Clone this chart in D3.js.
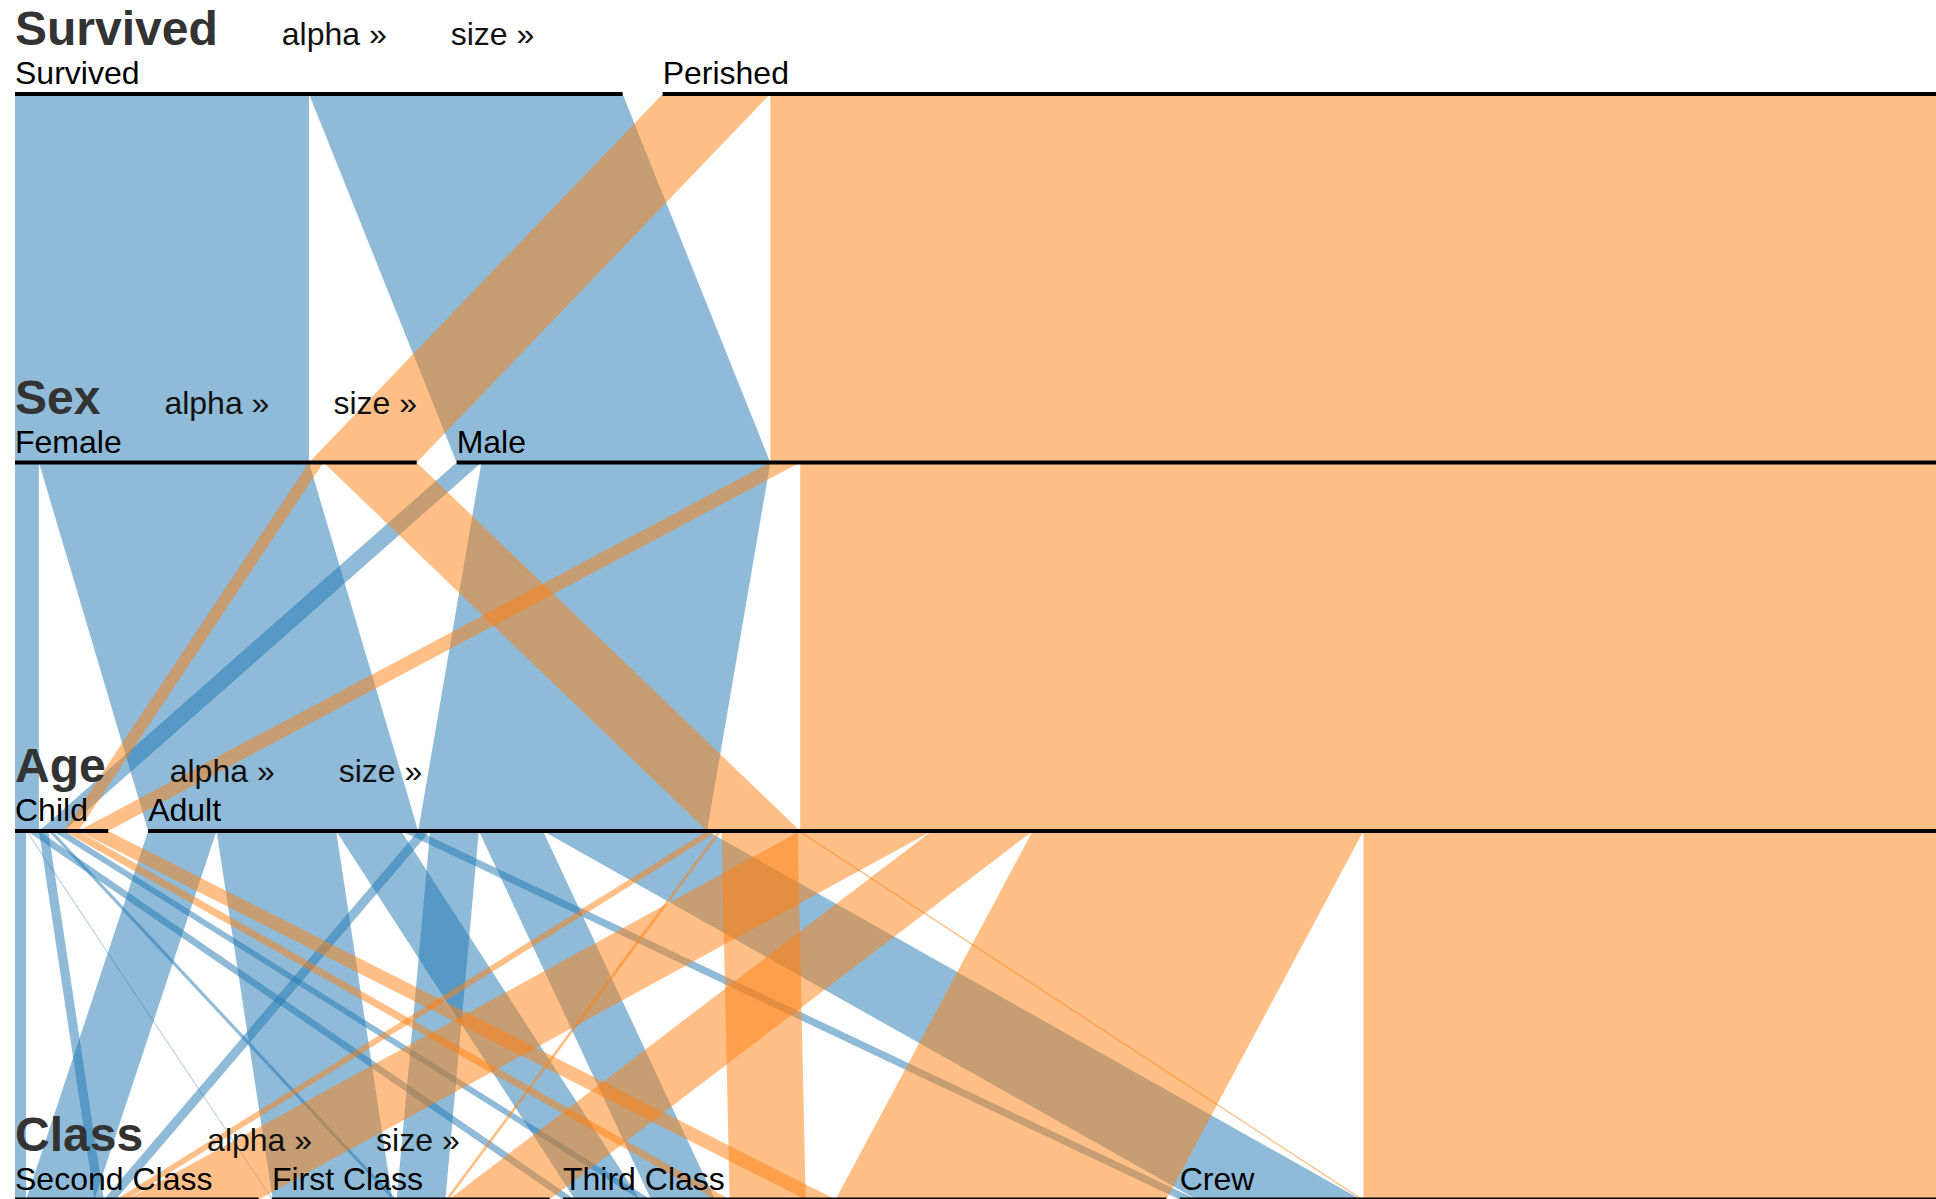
<!DOCTYPE html>
<html>
<head>
<meta charset="utf-8">
<script src="https://cdn.jsdelivr.net/npm/d3@7"></script>
<style>
  body { margin: 0; background: #fff; overflow: hidden; }
  svg { display: block; font-family: "Liberation Sans", Arial, sans-serif; }
  .dimension .name { font-weight: bold; fill: #333; }
  .dimension .sort { fill: #111; }
  .category text { fill: #000; }
  .ribbon path { stroke-opacity: 0; fill-opacity: .5; }
</style>
</head>
<body>
<script>
var width = 1936, height = 1199;

// dimensions and their categories, in display order
var dimensions = ["Survived", "Sex", "Age", "Class"];
var survivedCats = ["Survived", "Perished"];
var sexCats = ["Female", "Male"];
var ageCats = ["Child", "Adult"];
var classCats = ["Second Class", "First Class", "Third Class", "Crew"];

// passenger groups: [sex, age, class]
var groups = [
  ["Female", "Child", "First Class"], ["Female", "Child", "Second Class"], ["Female", "Child", "Third Class"], ["Female", "Child", "Crew"],
  ["Female", "Adult", "First Class"], ["Female", "Adult", "Second Class"], ["Female", "Adult", "Third Class"], ["Female", "Adult", "Crew"],
  ["Male", "Child", "First Class"], ["Male", "Child", "Second Class"], ["Male", "Child", "Third Class"], ["Male", "Child", "Crew"],
  ["Male", "Adult", "First Class"], ["Male", "Adult", "Second Class"], ["Male", "Adult", "Third Class"], ["Male", "Adult", "Crew"]
];
var survivedCounts = [1, 13, 14, 0, 140, 80, 76, 20, 5, 11, 13, 0, 57, 14, 75, 192];
var perishedCounts = [0, 0, 17, 0, 4, 13, 89, 3, 0, 0, 35, 0, 118, 154, 387, 670];

var catLists = [survivedCats, sexCats, ageCats, classCats];
var colors = { "Survived": "#1f77b4", "Perished": "#ff7f0e" };

// flat records
var records = [];
groups.forEach(function (g, i) {
  records.push({ path: ["Survived"].concat(g), count: survivedCounts[i] });
  records.push({ path: ["Perished"].concat(g), count: perishedCounts[i] });
});
var total = d3.sum(records, d => d.count);

var left = 15, chartWidth = 1921, spacing = 40;
var xs = d3.scaleLinear().domain([0, total]).range([0, chartWidth - spacing]);
var ys = d3.scalePoint().domain(dimensions).range([94, 1199.5]);

// category positions
var catPos = dimensions.map(function (dim, i) {
  var cats = catLists[i], pos = {}, x = left, p = spacing / (cats.length - 1);
  cats.forEach(function (c) {
    var n = d3.sum(records.filter(r => r.path[i] === c), r => r.count);
    pos[c] = { x: x, dx: xs(n), count: n };
    x += xs(n) + p;
  });
  return pos;
});

// tree nodes per level, lexicographic order by category index
function cmp(a, b) {
  for (var k = 0; k < a.length; k++) {
    var d = catLists[k].indexOf(a[k]) - catLists[k].indexOf(b[k]);
    if (d) return d;
  }
  return 0;
}
var levels = dimensions.map(function (dim, i) {
  var m = d3.rollup(records, v => d3.sum(v, r => r.count), r => r.path.slice(0, i + 1).join("|"));
  var nodes = Array.from(m, ([k, v]) => ({ key: k, path: k.split("|"), count: v }))
    .filter(n => n.count > 0)
    .sort((a, b) => cmp(a.path, b.path));
  var offs = {};
  nodes.forEach(function (n) {
    var c = n.path[i];
    offs[c] = offs[c] || 0;
    n.x = catPos[i][c].x + xs(offs[c]);
    n.dx = xs(n.count);
    offs[c] += n.count;
  });
  var byKey = new Map(nodes.map(n => [n.key, n]));
  return { nodes: nodes, byKey: byKey };
});

// ribbons between consecutive dimensions
var ribbonData = [];
for (var i = 1; i < dimensions.length; i++) {
  var used = {};
  levels[i].nodes.forEach(function (n) {
    var pk = n.path.slice(0, i).join("|");
    var parent = levels[i - 1].byKey.get(pk);
    used[pk] = used[pk] || 0;
    ribbonData.push({
      sx: parent.x + xs(used[pk]), sy: ys(dimensions[i - 1]),
      tx: n.x, ty: ys(dimensions[i]), dx: n.dx,
      color: colors[n.path[0]]
    });
    used[pk] += n.count;
  });
}

const svg = d3.select("body").append("svg").attr("width", width).attr("height", height);

svg.append("g").attr("class", "ribbon")
  .selectAll("path").data(ribbonData).enter().append("path")
  .attr("d", d => "M" + [d.sx, d.sy] + "L" + [d.tx, d.ty] + "h" + d.dx + "L" + [d.sx + d.dx, d.sy] + "Z")
  .attr("fill", d => d.color);

var dim = svg.selectAll("g.dimension").data(dimensions).enter().append("g")
  .attr("class", "dimension")
  .attr("transform", d => "translate(0," + ys(d) + ")");

var label = dim.append("text").attr("x", left).attr("y", -49);
label.append("tspan").attr("class", "name").style("font-size", "48px").text(d => d);
label.append("tspan").attr("class", "sort").style("font-size", "32px").attr("dx", "2em").text("alpha \u00bb");
label.append("tspan").attr("class", "sort").style("font-size", "32px").attr("dx", "2em").text("size \u00bb");

var cat = dim.selectAll("g.category")
  .data((d, i) => catLists[i].map(c => ({ name: c, pos: catPos[i][c] })))
  .enter().append("g").attr("class", "category");

cat.append("line")
  .attr("x1", d => d.pos.x).attr("x2", d => d.pos.x + d.pos.dx)
  .attr("y1", 0).attr("y2", 0)
  .attr("stroke", "#000").attr("stroke-width", 4);

cat.append("text")
  .attr("x", d => d.pos.x).attr("y", -10)
  .style("font-size", "32px")
  .text(d => d.name);
</script>
</body>
</html>
